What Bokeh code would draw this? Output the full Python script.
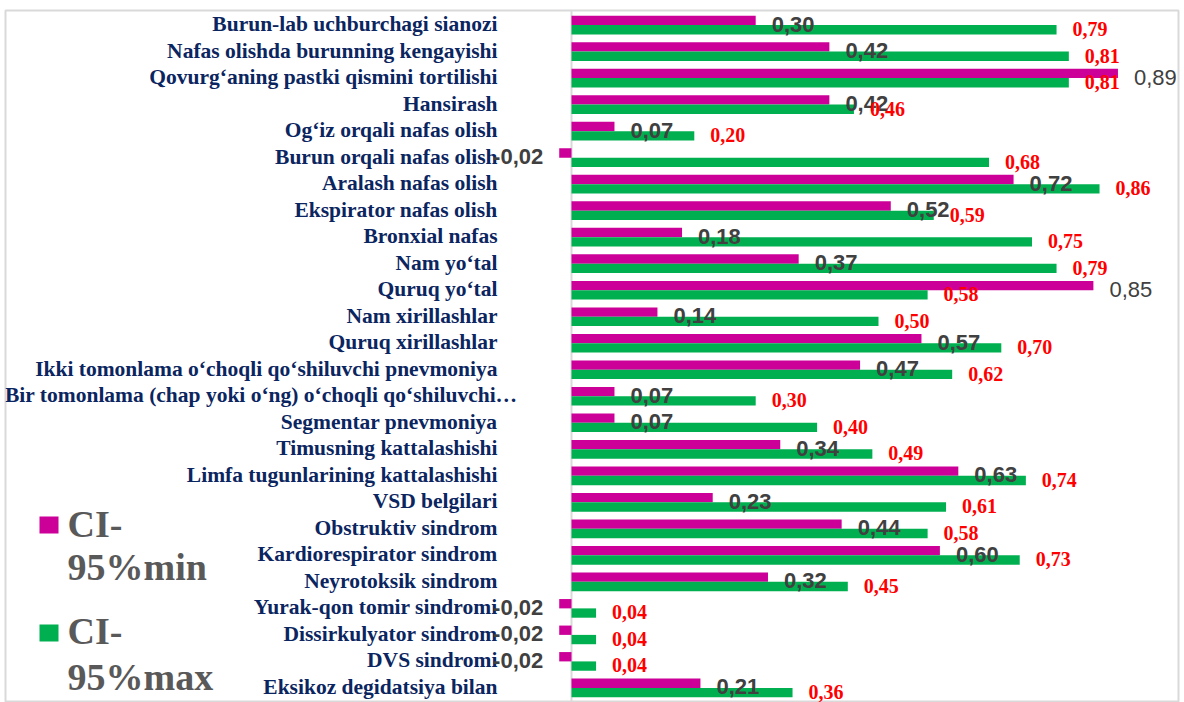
from bokeh.plotting import figure
from bokeh.models import FactorRange, Range1d, Span, Label, BoxAnnotation, ColumnDataSource
from bokeh.transform import dodge
from bokeh.core.properties import value
from bokeh.embed import file_html
from bokeh.resources import INLINE

categories = [
    "Burun-lab uchburchagi sianozi",
    "Nafas olishda burunning kengayishi",
    "Qovurg\u2018aning pastki qismini tortilishi",
    "Hansirash",
    "Og\u2018iz orqali nafas olish",
    "Burun orqali nafas olish",
    "Aralash nafas olish",
    "Ekspirator nafas olish",
    "Bronxial nafas",
    "Nam yo\u2018tal",
    "Quruq yo\u2018tal",
    "Nam xirillashlar",
    "Quruq xirillashlar",
    "Ikki tomonlama o\u2018choqli qo\u2018shiluvchi pnevmoniya",
    "Bir tomonlama (chap yoki o\u2018ng) o\u2018choqli qo\u2018shiluvchi\u2026",
    "Segmentar pnevmoniya",
    "Timusning kattalashishi",
    "Limfa tugunlarining kattalashishi",
    "VSD belgilari",
    "Obstruktiv sindrom",
    "Kardiorespirator sindrom",
    "Neyrotoksik sindrom",
    "Yurak-qon tomir sindromi",
    "Dissirkulyator sindrom",
    "DVS sindromi",
    "Eksikoz degidatsiya bilan",
]

ci_min = [0.30, 0.42, 0.89, 0.42, 0.07, -0.02, 0.72, 0.52, 0.18, 0.37, 0.85, 0.14, 0.57,
          0.47, 0.07, 0.07, 0.34, 0.63, 0.23, 0.44, 0.60, 0.32, -0.02, -0.02, -0.02, 0.21]
ci_max = [0.79, 0.81, 0.81, 0.46, 0.20, 0.68, 0.86, 0.59, 0.75, 0.79, 0.58, 0.50, 0.70,
          0.62, 0.30, 0.40, 0.49, 0.74, 0.61, 0.58, 0.73, 0.45, 0.04, 0.04, 0.04, 0.36]

series_names = ["CI-95%min", "CI-95%max"]

MAGENTA = "#CC0099"
GREEN = "#00B050"
NAVY = "#0B2560"
GREY_LBL = "#404040"
RED = "#FF0000"
LEG_GREY = "#595959"
BORDER = "#D9D9D9"

W, H = 1184, 702
FRAME_L, FRAME_R, FRAME_T = 5, 6, 10
ZERO_PX = 566      # frame px of x=0
PX_PER_UNIT = 614.0
FRAME_W = W - FRAME_L - FRAME_R

def fmt(v):
    return f"{v:.2f}".replace(".", ",")

src = ColumnDataSource(dict(
    cat=categories,
    mn=ci_min,
    mx=ci_max,
    zero=[0] * len(categories),
    mx_lbl=[fmt(v) for v in ci_max],
    cat_off=[-54 if c.endswith("\u2026") else -74 for c in categories],
))

# min labels split by style (labels beyond the max bar are drawn unbolded in the reference)
def min_label_source(keep):
    idx = [i for i, (a, b) in enumerate(zip(ci_min, ci_max)) if keep(a, b)]
    return ColumnDataSource(dict(
        cat=[categories[i] for i in idx],
        mn=[ci_min[i] for i in idx],
        lbl=[fmt(ci_min[i]) for i in idx],
        align=["right" if ci_min[i] < 0 else "left" for i in idx],
        off=[-16 if ci_min[i] < 0 else 16 for i in idx],
    ))

src_bold = min_label_source(lambda a, b: a <= b)
src_norm = min_label_source(lambda a, b: a > b)

p = figure(
    width=W, height=H,
    y_range=FactorRange(factors=list(reversed(categories)), range_padding=0.05,
                        range_padding_units="absolute"),
    x_range=Range1d(-ZERO_PX / PX_PER_UNIT, (FRAME_W - ZERO_PX) / PX_PER_UNIT),
    output_backend="svg", toolbar_location=None,
    min_border_left=FRAME_L, min_border_right=FRAME_R, min_border_top=FRAME_T,
    min_border_bottom=0,
)
p.xaxis.visible = False
p.yaxis.visible = False
p.xgrid.visible = False
p.ygrid.visible = False
p.outline_line_color = BORDER
p.outline_line_width = 2
p.background_fill_color = "white"
p.border_fill_color = "white"

p.add_layout(Span(location=0, dimension="height", line_color=BORDER,
                  line_width=2, level="underlay"))

BAR_H = 0.352
p.hbar(y=dodge("cat", BAR_H / 2, range=p.y_range), left="zero", right="mn",
       height=BAR_H, source=src, fill_color=MAGENTA, line_color=None)
p.hbar(y=dodge("cat", -BAR_H / 2, range=p.y_range), left="zero", right="mx",
       height=BAR_H, source=src, fill_color=GREEN, line_color=None)

# category labels
p.text(x="zero", y="cat", text="cat", source=src, x_offset="cat_off", y_offset=-1,
       text_align="right", text_baseline="middle",
       text_font=value("Liberation Serif"), text_font_style="bold",
       text_font_size="21.5px", text_color=NAVY)

# value labels
for s, style in ((src_bold, "bold"), (src_norm, "normal")):
    p.text(x="mn", y="cat", text="lbl", source=s, x_offset="off", y_offset=-1,
           text_align="align", text_baseline="middle",
           text_font=value("Liberation Sans"), text_font_style=style,
           text_font_size="22px", text_color=GREY_LBL)
p.text(x="mx", y="cat", text="mx_lbl", source=src, x_offset=16, y_offset=4,
       text_align="left", text_baseline="middle",
       text_font=value("Liberation Serif"), text_font_style="bold",
       text_font_size="20px", text_color=RED)

# legend
def legend_entry(color, name, y_sq, y_text1, y_text2):
    p.add_layout(BoxAnnotation(left=39 - FRAME_L, right=58 - FRAME_L, bottom=y_sq, top=y_sq + 17,
                               left_units="screen", right_units="screen",
                               bottom_units="screen", top_units="screen",
                               fill_color=color, fill_alpha=1.0, line_color=None))
    first, second = name[:3], name[3:]
    for txt, yy in ((first, y_text1), (second, y_text2)):
        p.add_layout(Label(x=67 - FRAME_L, y=yy, x_units="screen", y_units="screen", text=txt,
                           text_font="Liberation Serif", text_font_style="bold",
                           text_font_size="38px", text_color=LEG_GREY,
                           text_baseline="middle", text_align="left"))

legend_entry(MAGENTA, series_names[0], 169, 179, 136)
legend_entry(GREEN, series_names[1], 61, 72, 26)

open("out.html", "w").write(file_html(p, INLINE))
